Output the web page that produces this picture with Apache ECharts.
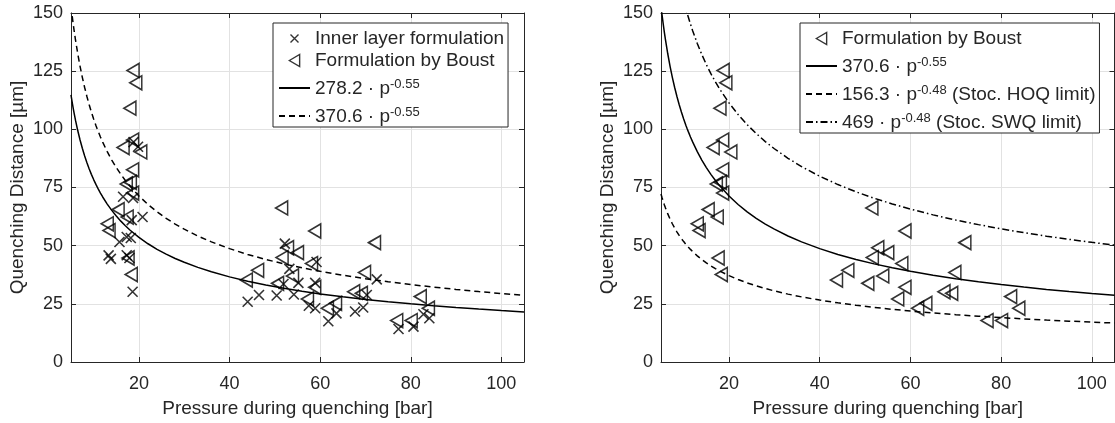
<!DOCTYPE html>
<html>
<head>
<meta charset="utf-8">
<script src="https://cdn.jsdelivr.net/npm/echarts@6/dist/echarts.min.js"></script>
<style>
html,body{margin:0;padding:0;background:#ffffff;}
#chart{width:1115px;height:423px;}
</style>
</head>
<body>
<div id="chart"></div>
<script>
// ---------- data ----------
const xTickValues = [20, 40, 60, 80, 100];

// "Formulation by Boust" (triangles) – pressure [bar], quenching distance [µm]
const boustPressure = [18.7, 19.3, 18.0, 16.5, 18.6, 20.4, 18.6, 17.2, 18.1, 18.6, 15.4, 17.4, 13.0, 13.4, 17.6, 18.3,
  43.7, 46.2, 50.6, 51.5, 52.8, 55.0, 51.6, 58.8, 58.1, 53.9, 58.8, 57.2, 61.6, 63.4, 72.0, 69.8, 67.4, 69.1, 82.1, 83.9, 76.9, 80.1];
const boustDistance = [125.3, 120.0, 109.1, 92.2, 95.4, 90.3, 82.6, 76.5, 77.2, 72.6, 65.5, 62.3, 59.4, 56.5, 44.7, 37.6,
  35.2, 39.4, 33.8, 66.2, 49.1, 47.0, 44.9, 56.3, 42.3, 37.0, 32.1, 27.1, 23.1, 25.2, 51.3, 38.5, 30.2, 29.5, 28.1, 23.1, 17.8, 17.8];

// "Inner layer formulation" (crosses)
const innerPressure = [13.3, 13.8, 15.7, 16.5, 17.3, 17.3, 17.9, 18.2, 18.4, 18.6, 18.7, 18.8, 19.8, 20.8,
  44.0, 46.5, 50.4, 51.9, 52.2, 53.2, 54.2, 55.2, 57.5, 58.9, 58.9, 59.2, 61.8, 63.6, 67.7, 69.5, 70.3, 72.5, 77.3, 80.6, 82.8, 84.1];
const innerDistance = [45.8, 44.3, 51.6, 71.0, 53.7, 45.9, 44.7, 53.3, 61.0, 30.2, 70.5, 94.5, 92.5, 62.3,
  25.9, 28.8, 28.6, 33.5, 50.9, 40.0, 29.0, 34.0, 24.2, 23.1, 34.0, 43.0, 17.5, 20.9, 21.7, 23.4, 28.8, 35.5, 14.2, 15.2, 20.5, 18.8];

// fitted power laws shown in the legends: d = coef * p^exp
const fitCoef = [278.2, 370.6, 156.3, 469];
const fitExp = [-0.55, -0.55, -0.48, -0.48];
// pressures at which the fitted curves are drawn
const curvePressure = [5, 5.1, 5.2, 5.3, 5.5, 5.75, 6, 6.5, 7, 7.5, 8, 8.5, 9, 9.5, 10, 10.5, 10.75, 11, 11.5, 12, 13, 14, 15, 16, 17, 18,
  20, 22, 24, 26, 28, 30, 33, 36, 40, 44, 48, 52, 56, 60, 65, 70, 75, 80, 85, 90, 95, 100, 105];

// legend labels
const leftLegendNames = ['Inner layer formulation', 'Formulation by Boust', '278.2 · p', '370.6 · p'];
const leftLegendSup = ['', '', '-0.55', '-0.55'];
const rightLegendNames = ['Formulation by Boust', '370.6 · p', '156.3 · p', '469 · p'];
const rightLegendSup = ['', '-0.55', '-0.48', '-0.48'];
const rightLegendTail = ['', '', ' (Stoc. HOQ limit)', ' (Stoc. SWQ limit)'];

// ---------- chart ----------
const FONT = "'Liberation Sans', Arial, Helvetica, sans-serif";
const AX = '#262626';
const GRIDC = '#e2e2e2';
const crossPath = 'path://M0,0L10,10M0,10L10,0';
const crossLegendPath = 'path://M-2.5,-2.5M12.5,12.5M0,0L10,10M0,10L10,0';
const triPath = 'path://M0,7L12,0L12,14Z';

function curve(k) {
  return curvePressure.map(p => [p, fitCoef[k] * Math.pow(p, fitExp[k])]);
}
function pairs(xs, ys) { return xs.map((x, i) => [x, ys[i]]); }

const grids = [
  {left: 71, top: 13, width: 453, height: 351},
  {left: 661, top: 13, width: 453.5, height: 351}
];

const xAxes = [], yAxes = [];
grids.forEach((g, gi) => {
  xAxes.push({
    gridIndex: gi, type: 'value', min: 5, max: 105, position: 'bottom',
    name: 'Pressure during quenching [bar]', nameLocation: 'middle', nameGap: 37,
    nameTextStyle: {fontSize: 19, color: AX, fontFamily: FONT},
    axisLine: {onZero: false, lineStyle: {color: AX, width: 1}},
    axisTick: {inside: true, length: 5, customValues: xTickValues, lineStyle: {color: AX}},
    axisLabel: {customValues: xTickValues, color: AX, fontSize: 18, fontFamily: FONT, margin: 13},
    splitLine: {show: true, lineStyle: {color: GRIDC, width: 1}}
  });
  xAxes.push({
    gridIndex: gi, type: 'value', min: 5, max: 105, position: 'top',
    axisLine: {onZero: false, lineStyle: {color: AX, width: 1}},
    axisTick: {inside: true, length: 5, customValues: xTickValues, lineStyle: {color: AX}},
    axisLabel: {show: false},
    splitLine: {show: false}
  });
  yAxes.push({
    gridIndex: gi, type: 'value', min: 0, max: 150, interval: 25, position: 'left',
    name: 'Quenching Distance [µm]', nameLocation: 'middle', nameGap: 44,
    nameTextStyle: {fontSize: 19, color: AX, fontFamily: FONT},
    axisLine: {show: true, onZero: false, lineStyle: {color: AX, width: 1}},
    axisTick: {show: true, inside: true, length: 5, lineStyle: {color: AX}},
    axisLabel: {color: AX, fontSize: 18, fontFamily: FONT, margin: 8},
    splitLine: {show: true, lineStyle: {color: GRIDC, width: 1}}
  });
  yAxes.push({
    gridIndex: gi, type: 'value', min: 0, max: 150, interval: 25, position: 'right',
    axisLine: {show: true, onZero: false, lineStyle: {color: AX, width: 1}},
    axisTick: {show: true, inside: true, length: 5, lineStyle: {color: AX}},
    axisLabel: {show: false},
    splitLine: {show: false}
  });
});

const markerStyle = {color: 'transparent', borderColor: '#000', borderWidth: 1.6};

function lineSeries(id, k, xi, yi, type) {
  return {
    name: id, type: 'line', xAxisIndex: xi, yAxisIndex: yi,
    data: curve(k), showSymbol: false, symbol: 'none', clip: true, smooth: false,
    itemStyle: {color: '#000'},
    lineStyle: {color: '#000', width: 1.5, type: type}, z: 3, silent: true
  };
}

const series = [
  {name: 'L0', type: 'scatter', xAxisIndex: 0, yAxisIndex: 0, symbol: crossPath, symbolSize: 10,
   itemStyle: markerStyle, data: pairs(innerPressure, innerDistance), z: 4},
  {name: 'L1', type: 'scatter', xAxisIndex: 0, yAxisIndex: 0, symbol: triPath, symbolSize: [12, 14],
   itemStyle: markerStyle, data: pairs(boustPressure, boustDistance), z: 4},
  lineSeries('L2', 0, 0, 0, 'solid'),
  lineSeries('L3', 1, 0, 0, [6, 4]),
  {name: 'R0', type: 'scatter', xAxisIndex: 2, yAxisIndex: 2, symbol: triPath, symbolSize: [12, 14],
   itemStyle: markerStyle, data: pairs(boustPressure, boustDistance), z: 4},
  lineSeries('R1', 1, 2, 2, 'solid'),
  lineSeries('R2', 2, 2, 2, [6, 4]),
  lineSeries('R3', 3, 2, 2, [7, 3, 1.5, 3])
];

function labelText(name, sup, tail) {
  if (!sup) return '{t|' + name + '}';
  return '{n|' + name + '}{s|' + sup + '}' + (tail ? '{n|' + tail + '}' : '');
}
const labelMap = {};
leftLegendNames.forEach((n, i) => { labelMap['L' + i] = labelText(n, leftLegendSup[i], ''); });
rightLegendNames.forEach((n, i) => { labelMap['R' + i] = labelText(n, rightLegendSup[i], rightLegendTail[i]); });

const richStyles = {
  t: {fontSize: 19, lineHeight: 20, color: AX, fontFamily: FONT},
  n: {fontSize: 19, lineHeight: 20, padding: [6, 0, 0, 0], color: AX, fontFamily: FONT, verticalAlign: 'bottom'},
  s: {fontSize: 13, lineHeight: 14, color: AX, fontFamily: FONT, verticalAlign: 'top'}
};

const hiddenSymbol = {color: 'rgba(0,0,0,0)', borderColor: 'rgba(0,0,0,0)', borderWidth: 0};
const shownMarker = {color: 'rgba(0,0,0,0)', borderColor: '#000', borderWidth: 1.4};

function legend(left, ids, icons) {
  return {
    orient: 'vertical', left: left, top: 23,
    backgroundColor: '#fff', borderColor: AX, borderWidth: 1,
    padding: [6, 4, 1, 5], itemGap: 3, itemWidth: 31, itemHeight: 12,
    selectedMode: false,
    data: ids.map((id, i) => icons[i]
      ? {name: id, icon: icons[i], itemStyle: shownMarker}
      : {name: id, itemStyle: hiddenSymbol, lineStyle: {color: '#000'}}),
    formatter: name => labelMap[name],
    textStyle: {color: AX, fontSize: 19, fontFamily: FONT, rich: richStyles}
  };
}

const option = {
  animation: false,
  backgroundColor: '#fff',
  textStyle: {fontFamily: FONT},
  grid: grids,
  xAxis: xAxes,
  yAxis: yAxes,
  legend: [
    legend(273, ['L0', 'L1', 'L2', 'L3'], [crossLegendPath, triPath, null, null]),
    legend(800, ['R0', 'R1', 'R2', 'R3'], [triPath, null, null, null])
  ],
  series: series
};

const chart = echarts.init(document.getElementById('chart'), null, {renderer: 'canvas'});
chart.setOption(option);
</script>
</body>
</html>
